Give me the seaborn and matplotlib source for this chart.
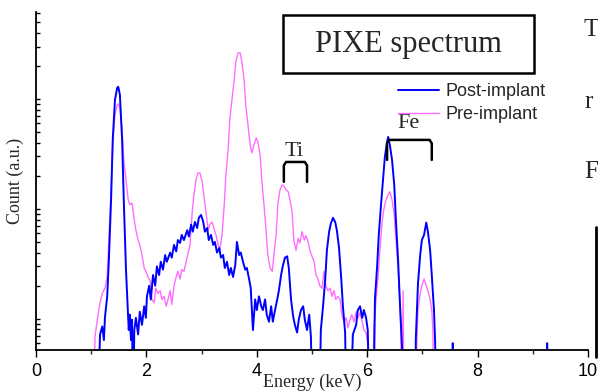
import matplotlib
matplotlib.use("Agg")
import matplotlib.pyplot as plt
import matplotlib.ticker as mticker
import numpy as np
import pandas as pd
import seaborn as sns

# ---------------- data ----------------
post_energy = [0.00, 1.07, 1.11, 1.16, 1.20, 1.23, 1.25, 1.29, 1.32, 1.36, 1.39, 1.43, 1.47, 1.49,
               1.52, 1.56, 1.59, 1.63, 1.67, 1.68, 1.70, 1.72, 1.74, 1.76, 1.78, 1.81, 1.85, 1.88,
               1.92, 1.96, 1.99, 2.01, 2.05, 2.08, 2.12, 2.16, 2.19, 2.23, 2.26, 2.30, 2.34, 2.37,
               2.43, 2.46, 2.50, 2.54, 2.57, 2.61, 2.64, 2.68, 2.74, 2.77, 2.81, 2.84, 2.88, 2.92,
               2.95, 2.99, 3.03, 3.06, 3.10, 3.13, 3.17, 3.21, 3.24, 3.28, 3.32, 3.35, 3.39, 3.42,
               3.46, 3.50, 3.53, 3.57, 3.61, 3.64, 3.68, 3.71, 3.75, 3.79, 3.82, 3.86, 3.89, 3.93,
               3.97, 4.00, 4.04, 4.08, 4.11, 4.15, 4.18, 4.22, 4.26, 4.29, 4.33, 4.37, 4.40, 4.44,
               4.47, 4.51, 4.55, 4.58, 4.62, 4.66, 4.69, 4.73, 4.76, 4.80, 4.84, 4.87, 4.91, 4.95,
               4.98, 5.02, 5.07, 5.13, 5.16, 5.20, 5.24, 5.27, 5.31, 5.34, 5.38, 5.42, 5.45, 5.49,
               5.53, 5.56, 5.60, 5.63, 5.69, 5.74, 5.80, 5.83, 5.87, 5.91, 5.94, 5.98, 6.01, 6.05,
               6.11, 6.14, 6.18, 6.21, 6.25, 6.29, 6.32, 6.36, 6.38, 6.41, 6.45, 6.49, 6.52, 6.56,
               6.59, 6.63, 6.65, 6.87, 6.88, 6.92, 6.96, 6.99, 7.03, 7.07, 7.10, 7.14, 7.17, 7.21,
               7.23, 7.26, 7.53, 7.55, 7.57, 9.24, 9.26, 9.28, 10.0]
post_counts = [1, 1, 1, 7.2, 8.5, 6.4, 10.4, 16, 34, 121, 424, 980, 1260, 1290,
               1090, 424, 121, 28, 9.8, 7.9, 10.9, 6.4, 9.8, 1, 7.9, 10.2, 7.2, 11.6,
               8.8, 13, 10.2, 16, 20, 15, 25, 20, 30, 25, 33, 28, 38, 33,
               40, 36, 47, 41, 52, 49, 58, 52, 64, 56, 72, 62, 76, 67,
               83, 88, 76, 62, 67, 52, 58, 47, 50, 40, 44, 36, 38, 29,
               33, 25, 29, 24, 31, 50, 38, 40, 33, 28, 29, 23, 19, 7.9,
               15, 12, 16, 13, 12, 15, 10.9, 9.4, 13, 9.4, 12, 15, 18, 25,
               30, 36, 37, 29, 15, 10.4, 8.8, 7.5, 9.8, 12, 13, 9.8, 7.9, 10.9,
               6.9, 1, 1, 1, 7.9, 13, 23, 42, 62, 73, 83, 76, 64, 44,
               23, 13, 7.5, 1, 1, 7.2, 8.8, 12, 13, 10.2, 12, 10.2, 7.9, 1,
               1, 15, 30, 58, 109, 191, 297, 406, 452, 382, 279, 165, 79, 34,
               15, 5.6, 1, 1, 6.4, 21, 38, 52, 58, 75, 62, 42, 25, 12,
               6.4, 1, 1, 6, 1, 1, 6, 1, 1]

pre_energy = [0.00, 1.03, 1.07, 1.11, 1.16, 1.20, 1.25, 1.29, 1.32, 1.36, 1.39, 1.43, 1.47, 1.49,
              1.52, 1.56, 1.59, 1.63, 1.67, 1.70, 1.74, 1.78, 1.81, 1.85, 1.88, 1.92, 1.96, 1.99,
              2.03, 2.07, 2.10, 2.14, 2.17, 2.21, 2.25, 2.28, 2.32, 2.36, 2.39, 2.43, 2.46, 2.50,
              2.54, 2.57, 2.61, 2.64, 2.68, 2.72, 2.75, 2.79, 2.83, 2.86, 2.90, 2.93, 2.97, 3.01,
              3.04, 3.08, 3.12, 3.15, 3.19, 3.22, 3.26, 3.30, 3.33, 3.37, 3.41, 3.44, 3.48, 3.51,
              3.55, 3.59, 3.62, 3.66, 3.70, 3.73, 3.77, 3.80, 3.84, 3.88, 3.91, 3.95, 3.99, 4.02,
              4.06, 4.09, 4.13, 4.17, 4.20, 4.24, 4.28, 4.31, 4.35, 4.38, 4.42, 4.46, 4.49, 4.53,
              4.57, 4.60, 4.64, 4.67, 4.71, 4.75, 4.78, 4.82, 4.86, 4.89, 4.93, 4.96, 5.00, 5.04,
              5.07, 5.11, 5.14, 5.18, 5.22, 5.25, 5.29, 5.33, 5.36, 5.40, 5.43, 5.47, 5.51, 5.54,
              5.58, 5.62, 5.65, 5.69, 5.72, 5.76, 5.80, 5.83, 5.87, 5.91, 5.94, 5.98, 6.01, 6.05,
              6.09, 6.12, 6.16, 6.20, 6.23, 6.27, 6.30, 6.34, 6.38, 6.41, 6.45, 6.49, 6.52, 6.56,
              6.59, 6.61, 6.63, 6.65, 6.67, 6.88, 6.90, 6.92, 6.96, 6.99, 7.03, 7.07, 7.10, 7.14,
              7.17, 7.19, 7.21, 10.0]
pre_counts = [1, 1, 6.9, 9.8, 14, 17, 19, 24, 52, 149, 382, 716, 880, 900,
              830, 523, 279, 184, 121, 109, 113, 79, 64, 52, 47, 38, 29, 27,
              24, 22, 15, 14, 19, 17, 18, 15, 16, 13, 15, 18, 13.5, 20,
              24, 27, 23, 28, 27, 33, 38, 47, 94, 134, 184, 212, 212, 176,
              134, 94, 64, 72, 76, 67, 58, 47, 42, 58, 109, 204, 344, 645,
              980, 1490, 2170, 2620, 2620, 2170, 1490, 880, 580, 382, 323, 382, 442, 406,
              310, 184, 109, 62, 38, 29, 27, 38, 58, 109, 149, 165, 162, 149,
              143, 121, 94, 52, 42, 54, 49, 62, 52, 57, 50, 42, 37, 33,
              25, 23, 20, 19, 27, 20, 18, 19, 16, 18, 15, 16, 15, 10.9,
              9.4, 10.2, 8.3, 9.8, 10.9, 9.4, 11.6, 10.2, 11.3, 9.4, 7.9, 7.5, 5.8, 1,
              1, 7.9, 15, 25, 42, 76, 98, 121, 134, 143, 121, 88, 54, 28,
              15, 7.5, 1, 18, 1, 1, 6.4, 12, 17, 20, 23, 20, 18, 15,
              12, 7.9, 1, 1]

series_names = ["Post-implant", "Pre-implant"]
series_colors = ["#0000ff", "#ff6dff"]
x_ticks = [0, 2, 4, 6, 8, 10]
x_minor_ticks = [1, 3, 5, 7, 9]

ti_label, ti_span = "Ti", (4.49, 4.91)
fe_label, fe_span = "Fe", (6.36, 7.17)

# ---------------- figure ----------------
sns.set_theme(style="ticks")
plt.rcParams["font.family"] = ["Liberation Sans", "DejaVu Sans"]
SERIF = ["Liberation Serif", "DejaVu Serif"]

W, H = 598, 392
fig = plt.figure(figsize=(W / 100, H / 100), dpi=100)
ax = fig.add_axes([36 / W, (H - 350) / H, 552 / W, 338 / H])

post_df = pd.DataFrame({"Energy": post_energy, "Count": post_counts})
pre_df = pd.DataFrame({"Energy": pre_energy, "Count": pre_counts})

sns.lineplot(data=pre_df, x="Energy", y="Count", ax=ax, color=series_colors[1],
             linewidth=1.0, label=series_names[1], sort=False)
sns.lineplot(data=post_df, x="Energy", y="Count", ax=ax, color=series_colors[0],
             linewidth=1.4, label=series_names[0], sort=False)

ax.set_yscale("log")
ax.set_ylim(5.2, 6180)
ax.set_xlim(0, 10)

ax.set_xticks(x_ticks)
ax.set_xticklabels([str(t) for t in x_ticks])
ax.set_xticks(x_minor_ticks, minor=True)
ax.tick_params(axis="x", which="major", direction="out", length=5, width=1,
               labelsize=13, pad=4, colors="black")
ax.tick_params(axis="x", which="minor", direction="out", length=3, width=1)

ax.yaxis.set_major_locator(mticker.LogLocator(base=10, numticks=10))
ax.yaxis.set_minor_locator(mticker.LogLocator(base=10, subs=np.arange(2, 10), numticks=20))
ax.yaxis.set_major_formatter(mticker.NullFormatter())
ax.yaxis.set_minor_formatter(mticker.NullFormatter())
ax.tick_params(axis="y", which="both", direction="in", length=3, width=1, colors="black")

for s in ["top", "right"]:
    ax.spines[s].set_visible(False)
for s in ["left", "bottom"]:
    ax.spines[s].set_linewidth(1.3)
    ax.spines[s].set_color("black")

ax.set_xlabel("Energy (keV)", family=SERIF, fontsize=13, labelpad=-4)
ax.set_ylabel("Count (a.u.)", family=SERIF, fontsize=13, labelpad=5)

# legend
handles, labels = ax.get_legend_handles_labels()
order = [labels.index(n) for n in series_names]
ax.legend([handles[i] for i in order], [labels[i] for i in order],
          loc="upper left", bbox_to_anchor=(0.655, 0.79), frameon=False,
          fontsize=13, handlelength=2.3, handletextpad=0.35, labelspacing=0.35,
          borderaxespad=0, borderpad=0)

# title box
ax.add_patch(plt.Rectangle((0.4475, 0.8195), 0.4545, 0.1715, transform=ax.transAxes,
                           fill=False, edgecolor="black", linewidth=1.8, clip_on=False))
ax.text(0.675, 0.905, "PIXE spectrum", transform=ax.transAxes, ha="center", va="center",
        family=SERIF, fontsize=22)

# element brackets
def bracket(span, top, bottom, label, label_y):
    x0, x1 = span
    d = 0.04
    ax.plot([x0, x0, x0 + d, x1 - d, x1, x1],
            [bottom, top * 0.93, top, top, top * 0.93, bottom],
            color="black", linewidth=1.8, solid_joinstyle="round")
    ax.text((x0 + x1) / 2 - 0.02, label_y, label, ha="center", va="baseline",
            family=SERIF, fontsize=16)

bracket(ti_span, 267, 176, ti_label, 300)
bracket(fe_span, 424, 279, fe_label, 540)

# fragments of the surrounding page text at the right edge
for ytxt, ch in [(30, "T"), (102, "r"), (172, "F")]:
    fig.text(584 / W, 1 - ytxt / H, ch, family=SERIF, fontsize=18, va="center", ha="left")
fig.add_artist(plt.Line2D([596 / W, 596 / W], [1 - 227 / H, 1 - 357 / H], color="black",
                          linewidth=2, transform=fig.transFigure))

fig.savefig("out.png", dpi=100)
